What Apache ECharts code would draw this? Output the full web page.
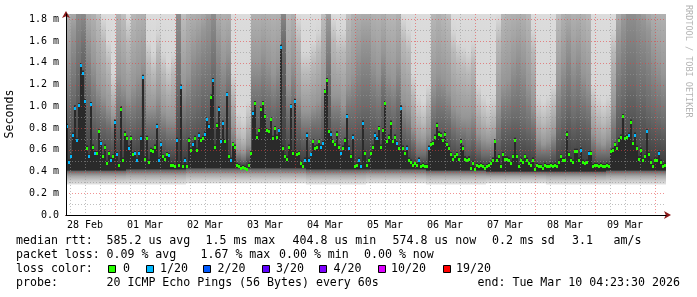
<!DOCTYPE html>
<html>
<head>
<meta charset="utf-8">
<script src="https://cdn.jsdelivr.net/npm/echarts@6.0.0/dist/echarts.min.js"></script>
<style>
html,body{margin:0;padding:0;background:#ffffff;}
#chart{width:697px;height:297px;}
</style>
</head>
<body>
<div id="chart"></div>
<script>
// ---- time frame: hours after 28 Feb 2026 00:00 ----
const START_H = 4.3917;   // 28 Feb 04:23:30
const END_H = 244.3917;   // 10 Mar 04:23:30
const MED_STEP_H = 0.8;   // median samples
const UPPER_STEP_H = 2;   // upper smoke columns
const LOWER_STEP_H = 24;  // lower smoke columns

// ---- axis ticks / labels ----
const dayLabels = ['28 Feb','01 Mar','02 Mar','03 Mar','04 Mar','05 Mar','06 Mar','07 Mar','08 Mar','09 Mar'];
const dayLabelHours = [12,36,60,84,108,132,156,180,204,228];
const dayLineHours = [24,48,72,96,120,144,168,192,216,240];
const sixHourLineHours = [6,12,18,30,36,42,54,60,66,78,84,90,102,108,114,126,132,138,150,156,162,174,180,186,198,204,210,222,228,234];
const yMajorTicks = [0.2,0.4,0.6,0.8,1.0,1.2,1.4,1.6,1.8];
const yMinorTicks = [0.1,0.3,0.5,0.7,0.9,1.1,1.3,1.5,1.7];

// ---- median rtt (ms), one value per 48 min ----
const medianRtt = [
0.81,0.48,0.53,0.73,0.98,0.68,1.00,1.37,1.30,1.04,
0.61,0.53,1.01,0.62,0.56,0.56,0.76,0.65,0.53,0.62,
0.47,0.56,0.50,0.53,0.85,0.55,0.45,0.97,0.50,0.74,
0.70,0.61,0.70,0.55,0.56,0.50,0.56,0.70,1.26,0.51,
0.70,0.48,0.59,0.58,0.62,0.81,0.50,0.64,0.53,0.51,
0.55,0.54,0.45,0.45,0.44,0.68,0.45,1.17,0.44,0.50,
0.44,0.68,0.59,0.64,0.70,0.59,0.73,0.68,0.70,0.74,
0.87,0.81,1.08,1.23,0.62,
0.82,0.97,0.67,0.84,0.67,1.10,0.53,0.50,0.64,0.62,
0.45,0.44,0.42,0.43,0.42,0.41,0.45,0.56,0.93,1.02,
0.71,0.77,0.97,1.02,0.90,0.77,0.76,0.87,0.70,0.79,
0.71,0.77,1.54,0.61,0.53,0.51,0.62,0.99,0.56,1.04,
0.55,0.56,0.47,0.44,0.50,0.73,0.50,0.55,0.67,0.61,
0.62,0.67,0.62,0.65,1.13,1.23,0.76,0.74,0.67,0.64,
0.74,0.62,0.56,0.61,0.68,0.90,0.61,0.53,0.71,0.44,
0.45,0.50,0.44,0.84,0.56,
0.45,0.50,0.56,0.62,0.73,0.70,0.79,0.62,0.77,1.02,
0.67,0.71,0.84,0.67,0.71,0.65,0.61,0.98,0.61,0.56,
0.61,0.50,0.48,0.45,0.47,0.45,0.50,0.44,0.45,0.44,
0.44,0.61,0.64,0.65,0.71,0.82,0.74,0.73,0.68,0.74,
0.64,0.61,0.55,0.51,0.53,0.55,0.51,0.67,0.61,0.51,
0.50,0.51,0.42,0.47,0.41,0.45,0.44,0.45,0.44,0.42,
0.44,0.45,0.47,0.50,0.67,0.50,0.53,0.44,0.55,0.51,
0.51,0.50,0.47,0.53,0.68,
0.53,0.44,0.50,0.48,0.53,0.50,0.47,0.45,0.50,0.41,
0.45,0.44,0.44,0.42,0.45,0.44,0.44,0.45,0.44,0.45,
0.44,0.48,0.53,0.50,0.50,0.74,0.55,0.50,0.48,0.58,
0.58,0.50,0.59,0.48,0.47,0.48,0.56,0.56,0.44,0.45,
0.45,0.44,0.45,0.44,0.44,0.45,0.44,0.58,0.59,0.64,
0.61,0.68,0.71,0.90,0.70,0.71,0.73,0.85,0.65,0.73,
0.61,0.51,0.59,0.50,0.53,0.76,0.55,0.48,0.44,0.50,
0.50,0.56,0.48,0.44,0.45
];

// ---- lost pings out of 20, per median sample ----
const lossCount = [
1,1,1,1,1,1,1,1,1,1, 0,1,1,0,1,0,0,1,0,0, 0,0,1,0,1,1,0,0,0,0, 0,1,0,0,1,1,1,1,1,0,
0,0,0,0,0,1,1,1,0,0, 0,1,0,0,0,1,0,1,0,1, 0,0,0,1,0,0,1,0,0,1, 1,1,0,1,0,
0,1,1,1,0,1,0,1,0,0, 0,0,0,0,0,0,0,0,1,0, 0,0,0,0,0,0,0,0,0,0, 0,1,1,0,0,0,0,1,0,1,
0,0,0,0,1,1,1,1,0,0, 0,0,1,1,0,0,0,1,0,0, 0,0,1,0,0,1,1,0,1,0, 0,1,1,1,0,
0,0,0,0,1,1,0,0,0,0, 0,0,0,0,0,1,0,1,0,0, 1,0,0,0,0,0,1,0,0,0, 0,1,0,0,0,0,0,0,0,0,
0,0,0,0,0,0,0,0,0,0, 0,0,0,0,0,0,0,0,0,0, 0,0,0,0,0,0,0,0,0,0, 0,0,0,0,0,
0,0,0,0,0,0,0,0,0,0, 0,0,0,0,0,0,0,0,0,0, 0,0,0,0,0,0,0,0,0,0, 0,0,1,0,0,0,1,0,0,0,
0,0,0,0,0,0,0,0,0,0, 0,0,0,0,0,0,1,0,0,1, 0,0,0,0,0,1,0,0,0,0, 0,1,0,0,0
];

// ---- upper smoke edges (ms), one column per 2 h ----
const smokeDarkTop = [
1.0,1.1,1.3,1.5,1.1,0.95,0.9,0.85,0.8,0.75, 0.9,0.9,0.85,0.85,0.9,1.0,0.8,0.8,0.8,0.75, 0.7,0.7,1.2,0.85,0.9,0.95,1.0,1.1,1.1,1.3,
1.0,0.95,1.1,0.6,0.52,0.5,0.55,1.0,1.0,1.05, 1.0,0.95,1.0,1.6,0.9,1.0,0.85,0.75,0.75,0.8, 0.8,0.9,1.25,0.85,0.85,0.8,0.9,0.9,0.95,1.0,
1.0,0.95,0.9,1.1,0.95,0.9,1.0,0.8,0.75,0.65, 0.55,0.55,0.6,0.85,0.9,0.9,0.85,0.75,0.7,0.7, 0.65,0.7,0.6,0.55,0.55,0.55,0.7,0.85,0.85,0.9,
0.9,0.85,0.8,0.75,0.55,0.55,0.55,0.6,0.8,0.9, 1.0,0.9,0.95,0.9,0.85,0.6,0.55,0.55,0.55,0.7, 1.0,1.1,1.2,1.2,1.1,1.1,1.0,0.95,0.9,0.85
];
const smokeMidTop = [
1.5,1.7,2,2,1.6,1.4,1.2,1.1,1.0,0.9, 1.3,1.2,1.1,1.2,1.3,1.4,1.0,1.0,1.1,0.95, 0.9,0.9,2,1.2,1.3,1.5,1.6,1.7,1.8,2,
1.6,1.4,1.5,0.8,0.6,0.58,0.65,1.4,1.4,1.5, 1.4,1.3,1.4,2,1.2,1.4,1.1,0.95,0.95,1.0, 1.05,1.2,1.8,1.1,1.1,1.0,1.2,1.3,1.5,1.6,
1.6,1.4,1.3,1.5,1.3,1.25,1.4,1.05,1.0,0.8, 0.7,0.68,0.75,1.2,1.3,1.25,1.15,1.0,0.95,0.9, 0.9,0.95,0.75,0.7,0.68,0.7,1.0,1.2,1.25,1.4,
1.5,1.4,1.2,1.0,0.7,0.65,0.68,0.75,1.2,1.4, 1.6,1.4,1.5,1.3,1.2,0.75,0.68,0.65,0.7,1.0, 1.6,1.8,2,2,1.9,1.8,1.7,1.5,1.4,1.3
];
const smokeLightTop = [
2,2,2,2,2,2,1.8,1.6,1.4,1.1, 2,1.8,1.6,1.9,2,2,1.4,1.3,1.5,1.3, 1.2,1.3,2,1.8,2,2,2,2,2,2,
2,2,2,1.1,0.75,0.7,0.85,2,2,2, 2,2,2,2,1.9,2,1.6,1.3,1.3,1.4, 1.5,1.8,2,1.6,1.5,1.5,1.8,2,2,2,
2,2,2,2,1.9,1.9,2,1.6,1.5,1.1, 0.9,0.85,1.0,1.9,2,1.9,1.8,1.5,1.4,1.35, 1.3,1.4,1.0,0.9,0.85,0.9,1.6,1.9,2,2,
2,2,1.9,1.5,0.9,0.85,0.9,1.0,1.8,2, 2,2,2,2,1.9,1.0,0.9,0.85,0.9,1.5, 2,2,2,2,2,2,2,2,2,2
];

// ---- lower smoke edges (ms), one column per day ----
const smokeBottom   = [0.28,0.28,0.29,0.29,0.28,0.29,0.28,0.29,0.28,0.28];
const smokeLowerTop = [0.42,0.43,0.44,0.44,0.43,0.43,0.42,0.41,0.41,0.42];

// ---- legend content ----
const lossSteps  = [0, 1, 2, 3, 4, 10, 19];
const lossLabels = ['0','1/20','2/20','3/20','4/20','10/20','19/20'];
const lossColors = ['#26ff00','#00b8ff','#0059ff','#5e00ff','#7e00ff','#dd00ff','#ff0000'];

const FONT_FAMILY = '"DejaVu Sans Mono", "Liberation Mono", monospace';
const LEG_FONT = '11.6px ' + FONT_FAMILY;
const Y_MAX = 1.85;

function lossColor(n){
  let c = lossColors[0];
  for (let i = 0; i < lossSteps.length; i++) if (n >= lossSteps[i]) c = lossColors[i];
  return c;
}
function colX(api, t){ return Math.round(api.coord([t, 0])[0]); }
function rowY(api, v){ return api.coord([START_H, v])[1]; }
function lowerIdx(t){
  return Math.min(smokeLowerTop.length - 1, Math.max(0, Math.floor((t - START_H + 1e-6) / LOWER_STEP_H)));
}
function bandRect(api, x0, x1, lo, hi, fill){
  const yTop = rowY(api, hi), yBot = rowY(api, lo);
  return {type:'rect', shape:{x:x0, y:yTop, width:x1 - x0, height:yBot - yTop}, style:{fill:fill}};
}

// upper smoke: one vertical gradient per column, grey level stepping at the read edges
function renderUpper(params, api){
  const j = params.dataIndex;
  const t0 = START_H + j * UPPER_STEP_H, t1 = t0 + UPPER_STEP_H;
  const x0 = colX(api, t0), x1 = colX(api, t1);
  const base = smokeLowerTop[lowerIdx(t0)];
  const e4 = smokeDarkTop[j], e3 = Math.max(smokeMidTop[j], e4 + 0.02), e2 = Math.max(smokeLightTop[j], e3 + 0.02);
  const fade = e2 + 0.2;
  const top = Math.max(fade + 0.01, Y_MAX);
  const pos = v => Math.min(1, Math.max(0, (top - v) / (top - base)));
  const stops = [
    {offset:0, color:'#dcdcdc'},
    {offset:pos(fade), color:'#d6d6d6'},
    {offset:pos(e2), color:'#b9b9b9'},
    {offset:pos(e3), color:'#969696'},
    {offset:pos(e4), color:'#6c6c6c'},
    {offset:1, color:'#363636'}
  ];
  return bandRect(api, x0, x1, base, top, new echarts.graphic.LinearGradient(0,0,0,1,stops));
}
function renderLower(params, api){
  const i = params.dataIndex;
  const t0 = START_H + i * LOWER_STEP_H, t1 = t0 + LOWER_STEP_H;
  const x0 = colX(api, t0), x1 = colX(api, t1);
  const g = new echarts.graphic.LinearGradient(0,0,0,1,[
    {offset:0,color:'#404040'},{offset:0.15,color:'#6e6e6e'},{offset:0.45,color:'#a8a8a8'},{offset:0.75,color:'#cdcdcd'},{offset:1,color:'#e2e2e2'}]);
  return bandRect(api, x0, x1, smokeBottom[i], smokeLowerTop[i], g);
}
function renderCore(params, api){
  const k = params.dataIndex;
  const t0 = START_H + k * MED_STEP_H, t1 = t0 + MED_STEP_H;
  const x0 = colX(api, t0), x1 = colX(api, t1);
  const base = smokeLowerTop[lowerIdx(t0)];
  return bandRect(api, x0, x1, base - 0.01, medianRtt[k] + 0.03, '#2a2a2a');
}
function renderMedian(params, api){
  const k = params.dataIndex;
  const t0 = START_H + k * MED_STEP_H, t1 = t0 + MED_STEP_H;
  const x0 = colX(api, t0), x1 = colX(api, t1);
  const y = Math.round(rowY(api, medianRtt[k]));
  return {type:'rect', shape:{x:x0, y:y - 2, width:x1 - x0, height:3}, style:{fill:lossColor(lossCount[k])}};
}
function renderVLine(params, api){
  const h = api.value(0), major = api.value(1);
  const x = Math.round(api.coord([h, 0])[0]) + 0.5;
  const cs = params.coordSys;
  return {type:'line', shape:{x1:x, y1:cs.y, x2:x, y2:cs.y + cs.height},
    style:{stroke: major ? 'rgba(230,60,60,0.55)' : 'rgba(150,150,150,0.6)', lineWidth:1, lineDash:[1,2]}};
}
function renderHLine(params, api){
  const v = api.value(0), major = api.value(1);
  const y = Math.round(api.coord([START_H, v])[1]) + 0.5;
  const cs = params.coordSys;
  return {type:'line', shape:{x1:cs.x, y1:y, x2:cs.x + cs.width, y2:y},
    style:{stroke: major ? 'rgba(230,60,60,0.55)' : 'rgba(150,150,150,0.6)', lineWidth:1, lineDash:[1,2]}};
}

const chart = echarts.init(document.getElementById('chart'), null, {renderer:'canvas', width:697, height:297});

// legend graphic
const graphics = [];
function txt(x, y, s){
  graphics.push({type:'text', x:x, y:y, silent:true,
    style:{text:s, font:LEG_FONT, fill:'#000', textAlign:'left', textVerticalAlign:'middle', align:'left', verticalAlign:'middle'}});
}
const row1 = 241, row2 = 255, row3 = 269, row4 = 283;
txt(16, row1, 'median rtt:');
txt(106.5, row1, '585.2 us avg');
txt(205.5, row1, '1.5 ms max');
txt(292.5, row1, '404.8 us min');
txt(392.5, row1, '574.8 us now');
txt(492, row1, '0.2 ms sd');
txt(572, row1, '3.1');
txt(613.5, row1, 'am/s');
txt(16, row2, 'packet loss:');
txt(106.5, row2, '0.09 % avg');
txt(200.5, row2, '1.67 % max');
txt(279, row2, '0.00 % min');
txt(364, row2, '0.00 % now');
txt(16, row3, 'loss color:');
const swatchX = [108, 146, 203, 262, 319, 378, 443];
const swatchTextX = [123, 160, 217.5, 276, 333.5, 391, 456];
lossLabels.forEach((lab, i) => {
  graphics.push({type:'rect', silent:true, shape:{x:swatchX[i] + 0.5, y:265.5, width:7, height:7},
    style:{fill:lossColors[i], stroke:'#000', lineWidth:1}});
  txt(swatchTextX[i], row3, lab);
});
txt(16, row4, 'probe:');
txt(106.5, row4, '20 ICMP Echo Pings (56 Bytes) every 60s');
txt(477.5, row4, 'end: Tue Mar 10 04:23:30 2026');
graphics.push({type:'text', x:10, y:114, rotation:Math.PI/2, silent:true,
  style:{text:'Seconds', font:LEG_FONT, fill:'#000', textAlign:'center', textVerticalAlign:'middle', align:'center', verticalAlign:'middle'}});
graphics.push({type:'text', x:688, y:5, rotation:-Math.PI/2, silent:true,
  style:{text:'RRDTOOL / TOBI OETIKER', font:'8.5px ' + FONT_FAMILY, fill:'#b4b4b4', textAlign:'left', textVerticalAlign:'middle', align:'left', verticalAlign:'middle'}});

const medData = medianRtt.map((v, k) => [START_H + (k + 0.5) * MED_STEP_H, v]);
const upperData = smokeDarkTop.map((v, j) => [START_H + (j + 0.5) * UPPER_STEP_H, v]);
const lowerData = smokeBottom.map((v, i) => [START_H + (i + 0.5) * LOWER_STEP_H, v]);
const vLines = dayLineHours.map(h => [h, 1]).concat(sixHourLineHours.map(h => [h, 0]));
const hLines = yMajorTicks.map(v => [v, 1]).concat(yMinorTicks.map(v => [v, 0]));

const option = {
  animation:false,
  backgroundColor:'#ffffff',
  grid:{left:66, right:31, top:14, bottom:82},
  xAxis:[
    {type:'value', min:START_H, max:END_H, position:'bottom', z:6,
     axisLine:{show:true, onZero:false, lineStyle:{color:'#000', width:1}},
     axisTick:{show:false, customValues:dayLabelHours},
     splitLine:{show:false}, minorSplitLine:{show:false},
     axisLabel:{show:true, customValues:dayLabelHours, fontFamily:FONT_FAMILY, fontSize:10, color:'#000', margin:5,
       formatter:function(v){ const i = dayLabelHours.indexOf(Math.round(v)); return i >= 0 ? dayLabels[i] : ''; }}},
    {type:'value', min:START_H, max:END_H, position:'bottom', z:5,
     axisLine:{show:true, onZero:false, symbol:['none','arrow'], symbolSize:[6,7], symbolOffset:[0,5], lineStyle:{color:'#8b1a1a', width:1}},
     axisTick:{show:false}, axisLabel:{show:false}, splitLine:{show:false}}
  ],
  yAxis:[
    {type:'value', min:0, max:Y_MAX, interval:0.2, position:'left', z:6,
     axisLine:{show:true, onZero:false, lineStyle:{color:'#000', width:1}},
     axisTick:{show:false}, splitLine:{show:false},
     axisLabel:{fontFamily:FONT_FAMILY, fontSize:10, color:'#000', margin:7,
       formatter:function(v){ if (v < 0.001) return '0.0'; if (v > 1.81) return ''; return v.toFixed(1) + ' m'; }}},
    {type:'value', min:0, max:Y_MAX, interval:0.2, position:'left', z:5,
     axisLine:{show:true, onZero:false, symbol:['none','arrow'], symbolSize:[6,7], symbolOffset:[0,3], lineStyle:{color:'#8b1a1a', width:1}},
     axisTick:{show:false}, axisLabel:{show:false}, splitLine:{show:false}}
  ],
  graphic:graphics,
  series:[
    {type:'custom', name:'upperSmoke', xAxisIndex:0, yAxisIndex:0, clip:true, z:1, silent:true, renderItem:renderUpper, data:upperData},
    {type:'custom', name:'lowerSmoke', xAxisIndex:0, yAxisIndex:0, clip:true, z:1, silent:true, renderItem:renderLower, data:lowerData},
    {type:'custom', name:'core', xAxisIndex:0, yAxisIndex:0, clip:true, z:1, silent:true, renderItem:renderCore, data:medData},
    {type:'custom', name:'vgrid', xAxisIndex:0, yAxisIndex:0, clip:true, z:2, silent:true, renderItem:renderVLine, data:vLines},
    {type:'custom', name:'hgrid', xAxisIndex:0, yAxisIndex:0, clip:true, z:2, silent:true, renderItem:renderHLine, data:hLines},
    {type:'custom', name:'median', xAxisIndex:0, yAxisIndex:0, clip:true, z:3, silent:true, renderItem:renderMedian, data:medData}
  ]
};
chart.setOption(option);
</script>
</body>
</html>
